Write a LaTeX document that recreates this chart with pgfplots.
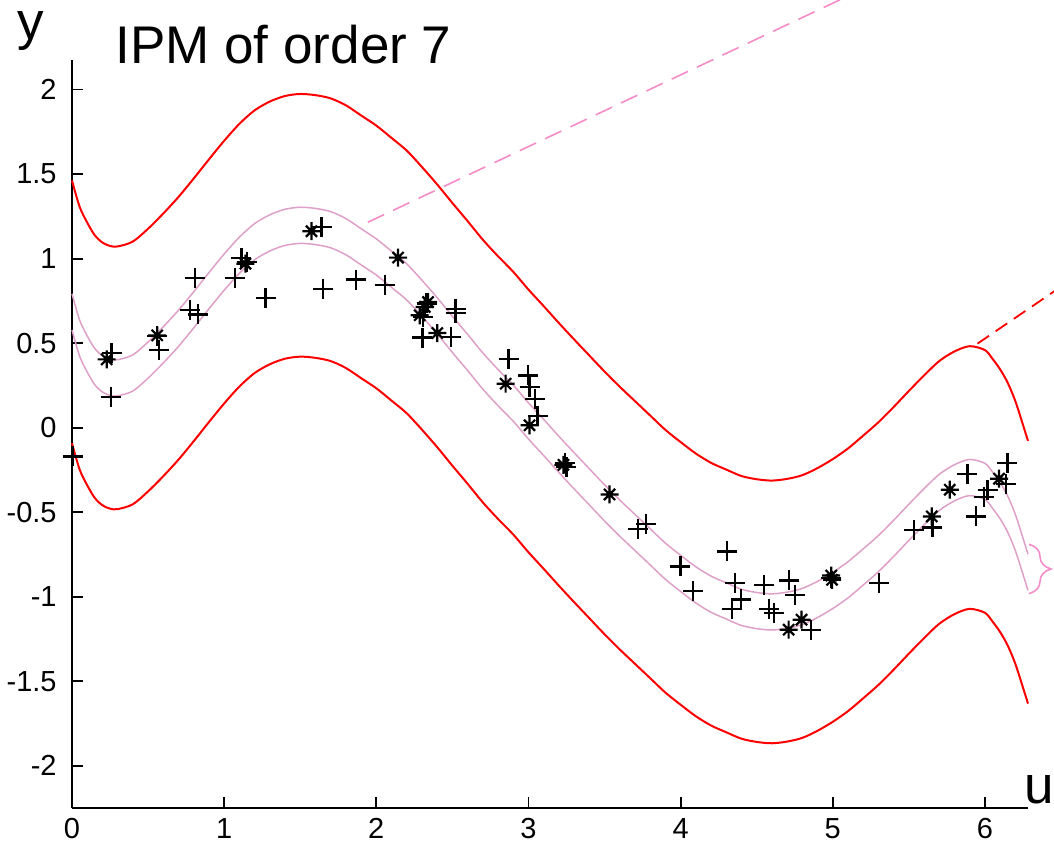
\documentclass[border=0pt]{standalone}
\usepackage{pgfplots}
\usepackage{pgfplotstable}
\pgfplotsset{compat=1.18}
\usepackage{fontspec}
\setmainfont{Liberation Sans}
\usetikzlibrary{decorations.pathreplacing}
\definecolor{pinkc}{RGB}{222,160,200}
\definecolor{pinkd}{RGB}{245,140,200}
\pgfdeclareplotmark{mstar}{%
  \pgfpathmoveto{\pgfqpoint{-\pgfplotmarksize}{0pt}}%
  \pgfpathlineto{\pgfqpoint{\pgfplotmarksize}{0pt}}%
  \pgfpathmoveto{\pgfqpoint{0pt}{-\pgfplotmarksize}}%
  \pgfpathlineto{\pgfqpoint{0pt}{\pgfplotmarksize}}%
  \pgfpathmoveto{\pgfqpoint{-0.62\pgfplotmarksize}{-0.62\pgfplotmarksize}}%
  \pgfpathlineto{\pgfqpoint{0.62\pgfplotmarksize}{0.62\pgfplotmarksize}}%
  \pgfpathmoveto{\pgfqpoint{-0.62\pgfplotmarksize}{0.62\pgfplotmarksize}}%
  \pgfpathlineto{\pgfqpoint{0.62\pgfplotmarksize}{-0.62\pgfplotmarksize}}%
  \pgfusepathqstroke
  \pgfpathcircle{\pgfpointorigin}{0.3\pgfplotmarksize}%
  \pgfusepathqfill}
\pgfplotstableread{
x rl pl pu ru
0.00 -0.092 0.578 0.792 1.462
0.05 -0.247 0.423 0.637 1.307
0.10 -0.341 0.329 0.543 1.213
0.15 -0.416 0.254 0.468 1.138
0.20 -0.459 0.211 0.425 1.095
0.25 -0.479 0.191 0.405 1.075
0.30 -0.482 0.188 0.402 1.072
0.40 -0.453 0.217 0.431 1.101
0.50 -0.377 0.293 0.507 1.177
0.60 -0.287 0.383 0.597 1.267
0.70 -0.189 0.481 0.695 1.365
0.80 -0.080 0.590 0.804 1.474
0.90 0.033 0.703 0.917 1.587
1.00 0.143 0.813 1.027 1.697
1.10 0.243 0.913 1.127 1.797
1.20 0.323 0.993 1.207 1.877
1.30 0.375 1.045 1.259 1.929
1.40 0.408 1.078 1.292 1.962
1.50 0.420 1.090 1.304 1.974
1.60 0.413 1.083 1.297 1.967
1.70 0.394 1.064 1.278 1.948
1.80 0.353 1.023 1.237 1.907
1.90 0.293 0.963 1.177 1.847
2.00 0.233 0.903 1.117 1.787
2.10 0.160 0.830 1.044 1.714
2.20 0.085 0.755 0.969 1.639
2.30 -0.012 0.658 0.872 1.542
2.40 -0.115 0.555 0.769 1.439
2.50 -0.225 0.445 0.659 1.329
2.60 -0.332 0.338 0.552 1.222
2.70 -0.442 0.228 0.442 1.112
2.80 -0.540 0.130 0.344 1.014
2.90 -0.632 0.038 0.252 0.922
3.00 -0.737 -0.067 0.147 0.817
3.10 -0.835 -0.165 0.049 0.719
3.20 -0.935 -0.265 -0.051 0.619
3.30 -1.032 -0.362 -0.148 0.522
3.40 -1.127 -0.457 -0.243 0.427
3.50 -1.222 -0.552 -0.338 0.332
3.60 -1.312 -0.642 -0.428 0.242
3.70 -1.397 -0.727 -0.513 0.157
3.80 -1.482 -0.812 -0.598 0.072
3.90 -1.567 -0.897 -0.683 -0.013
4.00 -1.639 -0.969 -0.755 -0.085
4.10 -1.707 -1.037 -0.823 -0.153
4.20 -1.762 -1.092 -0.878 -0.208
4.30 -1.802 -1.132 -0.918 -0.248
4.40 -1.840 -1.170 -0.956 -0.286
4.50 -1.859 -1.189 -0.975 -0.305
4.60 -1.867 -1.197 -0.983 -0.313
4.70 -1.857 -1.187 -0.973 -0.303
4.80 -1.835 -1.165 -0.951 -0.281
4.90 -1.793 -1.123 -0.909 -0.239
5.00 -1.740 -1.070 -0.856 -0.186
5.10 -1.677 -1.007 -0.793 -0.123
5.20 -1.601 -0.931 -0.717 -0.047
5.30 -1.522 -0.852 -0.638 0.032
5.40 -1.432 -0.762 -0.548 0.122
5.50 -1.337 -0.667 -0.453 0.217
5.60 -1.245 -0.575 -0.361 0.309
5.70 -1.160 -0.490 -0.276 0.394
5.80 -1.103 -0.433 -0.219 0.451
5.90 -1.072 -0.402 -0.188 0.482
6.00 -1.095 -0.425 -0.211 0.459
6.05 -1.147 -0.477 -0.263 0.407
6.10 -1.209 -0.539 -0.325 0.345
6.15 -1.289 -0.619 -0.405 0.265
6.20 -1.397 -0.727 -0.513 0.157
6.25 -1.537 -0.867 -0.653 0.017
6.283 -1.632 -0.962 -0.748 -0.078
}\curves
\begin{document}
\begin{tikzpicture}
\begin{axis}[
  scale only axis, width=478pt, height=374pt,
  xmin=0, xmax=6.2832, ymin=-2.25, ymax=2.175,
  axis x line*=bottom, axis y line*=left,
  axis line style={line width=0.9pt, -},
  tick align=inside, major tick length=5.5pt,
  tick style={line width=0.9pt, black},
  xtick={0,1,2,3,4,5,6}, ytick={-2,-1.5,-1,-0.5,0,0.5,1,1.5,2},
  ticklabel style={font=\fontsize{14.5}{17}\selectfont, inner sep=0pt},
  xticklabel style={yshift=-5pt},
  yticklabel style={xshift=-7.5pt},
  /pgf/number format/assume math mode=true,
  clip=false,
]
\addplot[red, line width=1pt, smooth] table[x=x,y=ru] {\curves};
\addplot[red, line width=1pt, smooth] table[x=x,y=rl] {\curves};
\addplot[pinkc, line width=0.75pt, smooth] table[x=x,y=pu] {\curves};
\addplot[pinkc, line width=0.75pt, smooth] table[x=x,y=pl] {\curves};
\addplot[only marks, mark=+, mark size=5pt, mark options={line width=1.1pt, black}] coordinates {
(0.009,-0.17) (0.26,0.44) (0.254,0.181) (0.56,0.54) (0.573,0.461)
(0.808,0.885) (0.775,0.694) (0.83,0.67) (1.07,0.887) (1.114,1.006)
(1.15,0.98) (1.272,0.769) (1.64,1.187) (1.65,0.822) (1.865,0.876)
(2.055,0.846) (2.33,0.735) (2.307,0.655) (2.303,0.533) (2.521,0.704)
(2.521,0.68) (2.493,0.536) (2.869,0.408) (2.997,0.309) (3.007,0.24)
(3.041,0.171) (3.06,0.067) (3.25,-0.235) (3.24,-0.21) (3.772,-0.568)
(3.72,-0.598) (3.999,-0.821) (4.084,-0.967) (4.303,-0.732) (4.36,-0.917)
(4.397,-1.016) (4.336,-1.071) (4.55,-0.929) (4.71,-0.904) (4.754,-0.992)
(4.583,-1.071) (4.616,-1.097) (4.857,-1.199) (4.99,-0.89) (5.305,-0.917)
(5.535,-0.604) (5.655,-0.59) (5.885,-0.272) (5.94,-0.525) (5.995,-0.41)
(6.017,-0.371) (6.137,-0.335) (6.148,-0.209)
};
\addplot[only marks, mark=mstar, mark size=4.5pt, mark options={line width=1.1pt, black}] coordinates {
(0.228,0.404) (0.56,0.546) (1.14,0.97) (1.574,1.162) (2.143,1.006)
(2.34,0.743) (2.318,0.714) (2.285,0.665) (2.401,0.56) (2.85,0.26)
(3.007,0.014) (3.23,-0.22) (3.533,-0.395) (4.71,-1.195) (4.795,-1.136)
(4.99,-0.875) (4.995,-0.90) (5.651,-0.525) (5.769,-0.367) (6.093,-0.302)
};
\draw[pinkd, line width=0.8pt, dash pattern=on 9pt off 5pt] (axis cs:1.944,1.215) -- (axis cs:6.0,2.935);
\draw[red, line width=0.9pt, dash pattern=on 7pt off 4pt] (axis cs:5.951,0.497) -- (axis cs:7,1.141);
\draw[pinkd, line width=0.8pt, decorate, decoration={brace, amplitude=11pt}] (axis cs:6.29,-0.69) -- (axis cs:6.29,-0.982);
\end{axis}
\node[anchor=base west, inner sep=0pt, font=\fontsize{26.5}{30}\selectfont] at (21.6pt,372.5pt) {IPM of order 7};
\node[anchor=base west, inner sep=0pt, font=\fontsize{26.5}{30}\selectfont] at (-27.3pt,384.5pt) {y};
\node[anchor=base west, inner sep=0pt, font=\fontsize{26.5}{30}\selectfont] at (476pt,2.5pt) {u};
\pgfresetboundingbox
\useasboundingbox (-36pt,-17.5pt) rectangle (491pt,404pt);
\end{tikzpicture}
\end{document}
